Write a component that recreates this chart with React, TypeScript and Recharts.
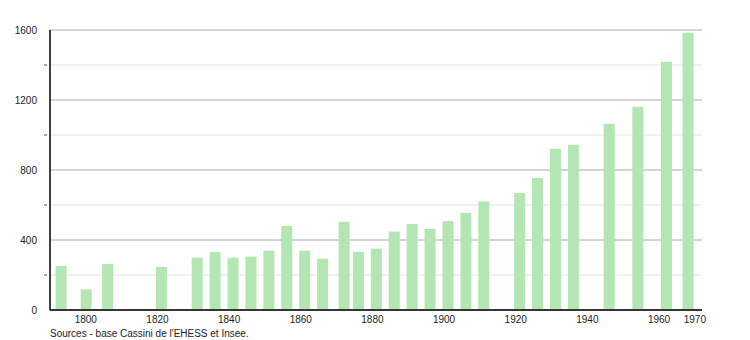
import { BarChart, Bar, XAxis, YAxis, CartesianGrid } from "recharts";

// Census years and population counts
const years = [
  1793, 1800, 1806, 1821, 1831, 1836, 1841, 1846, 1851, 1856, 1861, 1866, 1872,
  1876, 1881, 1886, 1891, 1896, 1901, 1906, 1911, 1921, 1926, 1931, 1936, 1946,
  1954, 1962, 1968,
];
const population = [
  252, 118, 263, 246, 299, 332, 299, 305, 339, 480, 339, 293, 505, 332, 351,
  448, 492, 463, 509, 555, 620, 669, 755, 921, 944, 1064, 1161, 1419, 1585,
];

const xTicks = [1800, 1820, 1840, 1860, 1880, 1900, 1920, 1940, 1960, 1970];
const majorTicks = [0, 400, 800, 1200, 1600];
const minorTicks = [200, 600, 1000, 1400];
const yTicks = [0, 200, 400, 600, 800, 1000, 1200, 1400, 1600];

const data = years.map((year, i) => ({ year, pop: population[i] }));

const font = "'Liberation Sans', Arial, sans-serif";

function YTick(props: any) {
  const { x, y, payload } = props;
  if (payload.value % 400 === 0) {
    return (
      <text x={x - 5} y={y} dy={4} textAnchor="end" fontSize={10} fill="#222" fontFamily={font}>
        {payload.value}
      </text>
    );
  }
  return <line x1={x + 2} x2={x + 5} y1={y} y2={y} stroke="#555" strokeWidth={1} />;
}

export default function App() {
  return (
    <div style={{ position: "absolute", left: 0, top: 0, width: 750, height: 340, background: "#fff" }}>
      <BarChart
        width={750}
        height={340}
        data={data}
        margin={{ top: 30, right: 48, bottom: 0, left: 0 }}
      >
        <CartesianGrid horizontal vertical={false} horizontalValues={minorTicks} stroke="#e4e4e4" />
        <CartesianGrid horizontal vertical={false} horizontalValues={majorTicks} stroke="#aaaaaa" />
        <XAxis
          dataKey="year"
          type="number"
          domain={[1790, 1972]}
          ticks={xTicks}
          interval={0}
          height={30}
          tickLine={false}
          axisLine={{ stroke: "#000", strokeWidth: 1.5 }}
          tick={{ fontSize: 10, fill: "#222", fontFamily: font }}
          tickMargin={0}
        />
        <YAxis
          type="number"
          domain={[0, 1600]}
          ticks={yTicks}
          interval={0}
          width={50}
          tickLine={false}
          axisLine={{ stroke: "#000", strokeWidth: 1.5 }}
          tick={<YTick />}
        />
        <Bar dataKey="pop" fill="#b3e6b3" barSize={11} isAnimationActive={false} />
      </BarChart>
      <div
        style={{
          position: "absolute",
          left: 50,
          top: 328,
          fontSize: 10,
          lineHeight: "11px",
          fontFamily: font,
          color: "#222",
          whiteSpace: "nowrap",
        }}
      >
        Sources - base Cassini de l'EHESS et Insee.
      </div>
    </div>
  );
}
